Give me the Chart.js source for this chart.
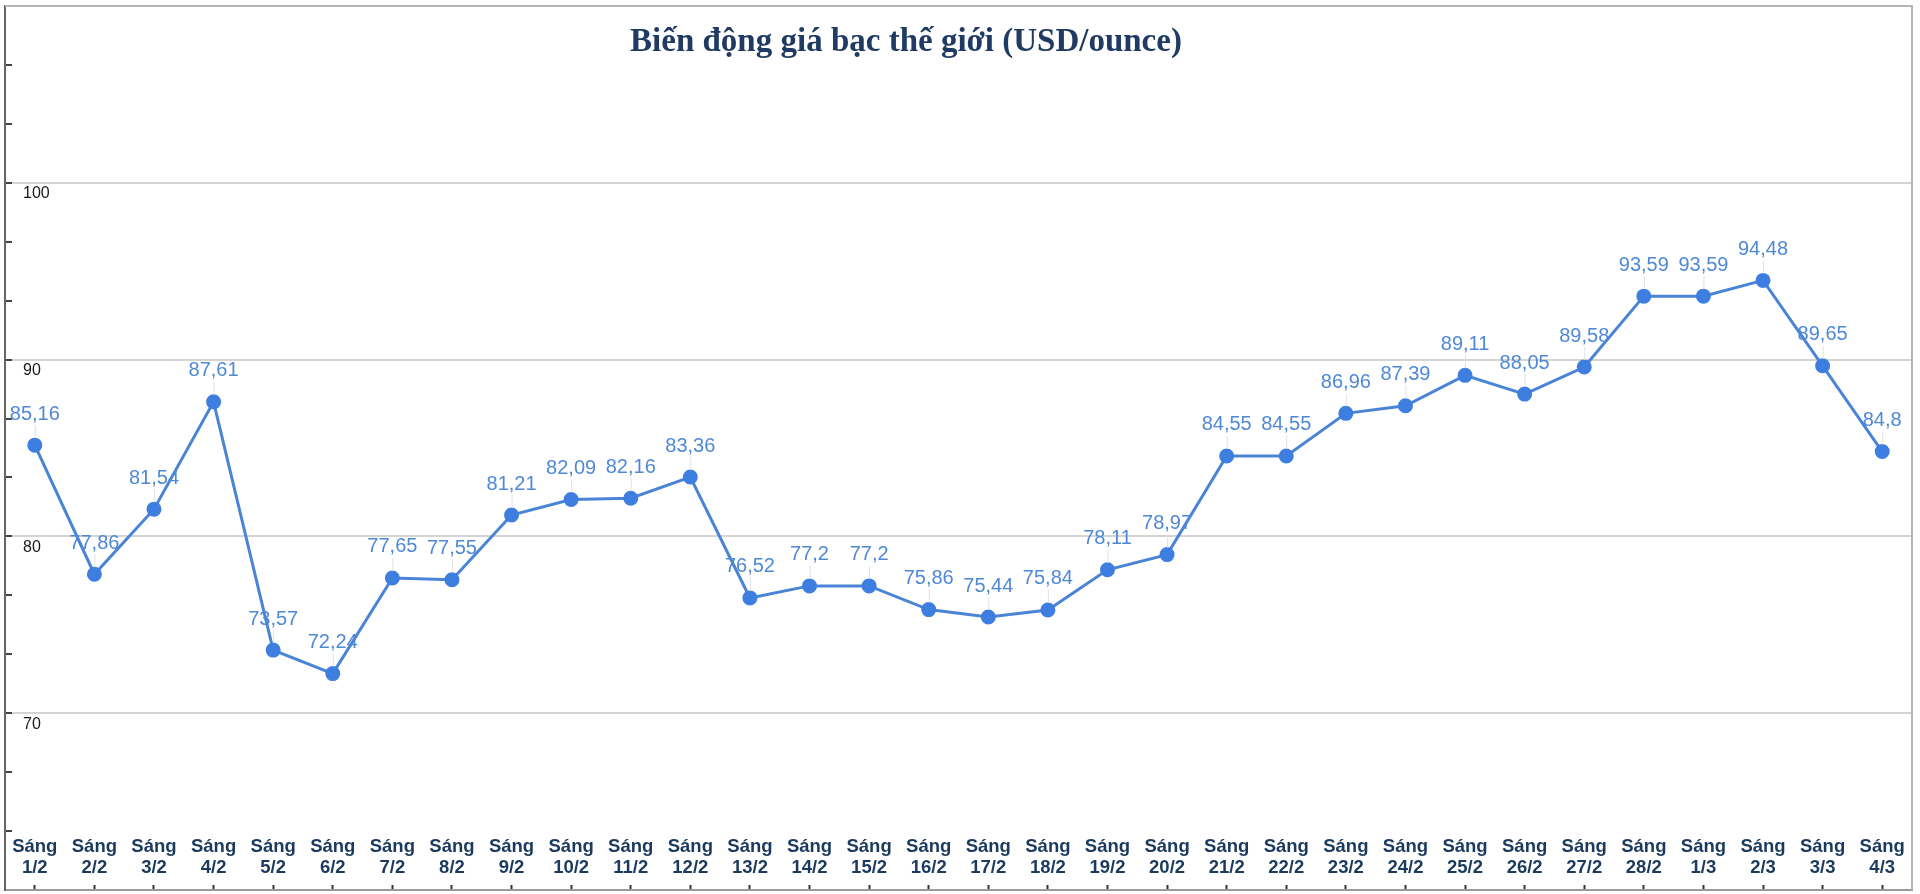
<!DOCTYPE html>
<html>
<head>
<meta charset="utf-8">
<script src="https://cdn.jsdelivr.net/npm/chart.js@4.4.1/dist/chart.umd.min.js"></script>
<style>
    html, body { margin: 0; padding: 0; background: #fff; }
    #wrap { width: 1920px; height: 894px; position: relative; }
</style>
</head>
<body>
<div id="wrap"><canvas id="chart"></canvas></div>
<script>
const TITLE_TEXT = "Biến động giá bạc thế giới (USD/ounce)";

const days = [
    "1/2", "2/2", "3/2", "4/2", "5/2", "6/2", "7/2", "8/2", "9/2", "10/2",
    "11/2", "12/2", "13/2", "14/2", "15/2", "16/2", "17/2", "18/2", "19/2", "20/2",
    "21/2", "22/2", "23/2", "24/2", "25/2", "26/2", "27/2", "28/2", "1/3", "2/3",
    "3/3", "4/3"
];

const prices = [
    85.16, 77.86, 81.54, 87.61, 73.57, 72.24, 77.65, 77.55, 81.21, 82.09,
    82.16, 83.36, 76.52, 77.2, 77.2, 75.86, 75.44, 75.84, 78.11, 78.97,
    84.55, 84.55, 86.96, 87.39, 89.11, 88.05, 89.58, 93.59, 93.59, 94.48,
    89.65, 84.8
];

const yMajorTicks = [70, 80, 90, 100];
const Y_MIN = 60;
const Y_MAX = 110;

const LINE_COLOR = "#4a84d6";
const POINT_COLOR = "#3d7ee0";
const LABEL_COLOR = "#4f89d6";
const AXIS_TEXT = "#1b3a5e";

const labels = days.map(d => ["Sáng", d]);

function isMajor(v) {
    return yMajorTicks.some(t => Math.abs(t - v) < 0.01);
}

// title sits inside the plot, a bit left of centre
const titlePlugin = {
    id: "innerTitle",
    afterDraw(chart) {
        const { ctx } = chart;
        ctx.save();
        ctx.font = "bold 33px 'Liberation Serif', 'Times New Roman', serif";
        ctx.fillStyle = "#1f3b63";
        ctx.textAlign = "center";
        ctx.textBaseline = "middle";
        ctx.fillText(TITLE_TEXT, 906, 42);
        ctx.restore();
    }
};

// category labels are drawn inside the plot, just above the x axis line
const innerXLabels = {
    id: "innerXLabels",
    afterDraw(chart) {
        const { ctx, chartArea: a } = chart;
        const xScale = chart.scales.x;
        ctx.save();
        ctx.font = "bold 18.5px 'Liberation Sans', Arial, sans-serif";
        ctx.fillStyle = AXIS_TEXT;
        ctx.textAlign = "center";
        ctx.textBaseline = "middle";
        labels.forEach((lines, i) => {
            const x = xScale.getPixelForValue(i);
            ctx.fillText(lines[0], x, a.bottom - 43);
            ctx.fillText(lines[1], x, a.bottom - 22);
        });
        ctx.restore();
    }
};

const valueLabels = {
    id: "valueLabels",
    afterDatasetsDraw(chart) {
        const { ctx } = chart;
        const meta = chart.getDatasetMeta(0);
        ctx.save();
        meta.data.forEach((pt, i) => {
            const text = String(prices[i]).replace(".", ",");
            ctx.strokeStyle = "#e2e2e2";
            ctx.lineWidth = 1;
            ctx.beginPath();
            ctx.moveTo(pt.x + 0.5, pt.y - 20);
            ctx.lineTo(pt.x + 0.5, pt.y - 7);
            ctx.stroke();
            ctx.font = "20px 'Liberation Sans', Arial, sans-serif";
            ctx.fillStyle = LABEL_COLOR;
            ctx.textAlign = "center";
            ctx.textBaseline = "middle";
            ctx.fillText(text, pt.x, pt.y - 31);
        });
        ctx.restore();
    }
};

const frame = {
    id: "frame",
    afterDraw(chart) {
        const { ctx, chartArea: a } = chart;
        ctx.save();
        ctx.strokeStyle = "#b5b5b5";
        ctx.lineWidth = 2;
        ctx.beginPath();
        ctx.moveTo(a.left, a.top);
        ctx.lineTo(a.right, a.top);
        ctx.lineTo(a.right, a.bottom);
        ctx.stroke();
        ctx.restore();
    }
};

const ctx = document.getElementById("chart");

new Chart(ctx, {
    type: "line",
    data: {
        labels: labels,
        datasets: [{
            data: prices,
            borderColor: LINE_COLOR,
            borderWidth: 3,
            backgroundColor: POINT_COLOR,
            pointBackgroundColor: POINT_COLOR,
            pointBorderColor: POINT_COLOR,
            pointRadius: 6,
            tension: 0
        }]
    },
    options: {
        responsive: true,
        maintainAspectRatio: false,
        animation: false,
        layout: {
            autoPadding: false,
            padding: { left: 5, right: 8, top: 6, bottom: 4 }
        },
        plugins: {
            legend: { display: false },
            title: { display: false },
            tooltip: { enabled: false }
        },
        scales: getScales()
    },
    plugins: [valueLabels, innerXLabels, titlePlugin, frame]
});

function getScales() {
    return {
        x: {
            type: "category",
            offset: true,
            afterFit: scale => {
                scale.height = 0;
                scale.paddingLeft = 0;
                scale.paddingRight = 0;
            },
            border: { display: true, color: "#9a9a9a", width: 2 },
            grid: {
                display: true,
                drawOnChartArea: false,
                drawTicks: true,
                tickLength: -5,
                tickColor: "#333",
                tickWidth: 2,
                offset: false
            },
            ticks: {
                display: false,
                autoSkip: false
            }
        },
        y: {
            min: Y_MIN,
            max: Y_MAX,
            afterFit: scale => {
                scale.width = 0;
                scale.paddingTop = 0;
                scale.paddingBottom = 0;
            },
            afterBuildTicks: scale => {
                const ticks = [];
                for (let k = 0; k <= 15; k++) {
                    ticks.push({ value: Y_MIN + k * 10 / 3 });
                }
                scale.ticks = ticks;
            },
            border: { display: true, color: "#666", width: 2 },
            grid: {
                color: c => (isMajor(c.tick.value) ? "#d4d4d4" : "transparent"),
                lineWidth: 2,
                drawTicks: true,
                tickLength: -7,
                tickColor: "#444",
                tickWidth: 2
            },
            ticks: {
                mirror: true,
                padding: 18,
                labelOffset: 11,
                color: "#1a1a1a",
                font: {
                    family: "'Liberation Sans', Arial, sans-serif",
                    size: 16
                },
                callback: v => (isMajor(v) ? String(Math.round(v)) : "")
            }
        }
    };
}
</script>
</body>
</html>
